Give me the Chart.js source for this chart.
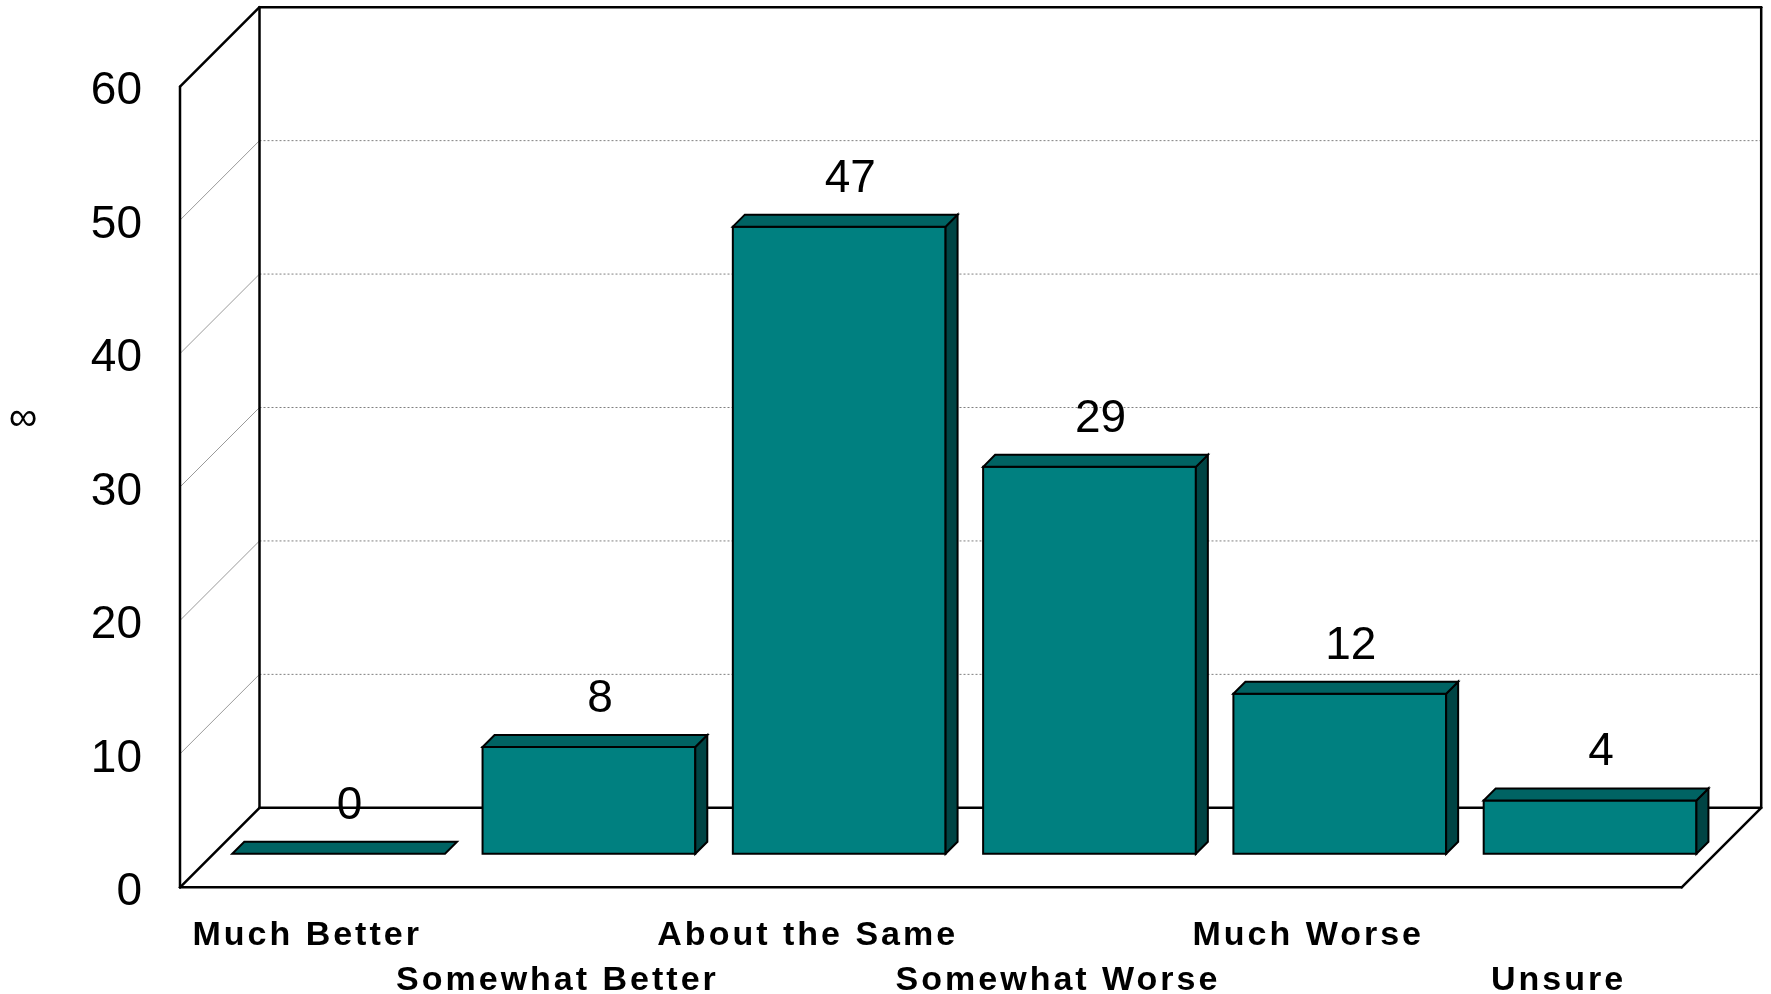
<!DOCTYPE html>
<html>
<head>
<meta charset="utf-8">
<script src="https://cdn.jsdelivr.net/npm/chart.js@4.4.0/dist/chart.umd.min.js"></script>
<style>
  html, body { margin: 0; padding: 0; background: #fff; }
  #wrap { width: 1771px; height: 994px; }
</style>
</head>
<body>
<div id="wrap"><canvas id="chart" width="1771" height="994"></canvas></div>
<script>
const categories = ['Much Better', 'Somewhat Better', 'About the Same', 'Somewhat Worse', 'Much Worse', 'Unsure'];
const values = [0, 8, 47, 29, 12, 4];
const yTicks = [0, 10, 20, 30, 40, 50, 60];
const yTitle = '\u221E';

const FONT = "'Liberation Sans', Arial, sans-serif";
const DEPTH = 79.5;    // depth of the 3d box walls
const BAR_OFF = 33.5;  // bars sit this far behind the front plane
const BAR_D = 12;      // bar thickness

function line(ctx, x1, y1, x2, y2) {
  ctx.beginPath();
  ctx.moveTo(x1, y1);
  ctx.lineTo(x2, y2);
  ctx.stroke();
}

function poly(ctx, pts, fill) {
  ctx.beginPath();
  ctx.moveTo(pts[0][0], pts[0][1]);
  for (let i = 1; i < pts.length; i++) ctx.lineTo(pts[i][0], pts[i][1]);
  ctx.closePath();
  ctx.fillStyle = fill;
  ctx.fill();
  ctx.stroke();
}

const frame3d = {
  id: 'frame3d',
  beforeDatasetsDraw(chart) {
    const ctx = chart.ctx;
    const a = chart.chartArea;
    const y = chart.scales.y;
    ctx.save();

    // grid lines: side wall diagonals + dotted lines on back wall
    ctx.lineWidth = 1;
    yTicks.slice(1, -1).forEach(v => {
      const py = y.getPixelForValue(v);
      ctx.setLineDash([]);
      ctx.strokeStyle = '#9a9a9a';
      line(ctx, a.left, py, a.left + DEPTH, py - DEPTH);
      ctx.setLineDash([2, 2]);
      ctx.strokeStyle = '#808080';
      line(ctx, a.left + DEPTH, py - DEPTH, a.right + DEPTH, py - DEPTH);
    });

    // box outline
    ctx.setLineDash([]);
    ctx.strokeStyle = '#000';
    ctx.lineWidth = 2.5;
    ctx.lineCap = 'round';
    const bl = a.left + DEPTH, bt = a.top - DEPTH, br = a.right + DEPTH, bb = a.bottom - DEPTH;
    line(ctx, bl, bt, br, bt);
    line(ctx, bl, bt, bl, bb);
    line(ctx, br, bt, br, bb);
    line(ctx, bl, bb, br, bb);
    line(ctx, a.left, a.top, a.left, a.bottom);
    line(ctx, a.left, a.top, bl, bt);
    line(ctx, a.left, a.bottom, bl, bb);
    line(ctx, a.left, a.bottom, a.right, a.bottom);
    line(ctx, a.right, a.bottom, br, bb);
    ctx.restore();
  },
  afterDatasetsDraw(chart) {
    const ctx = chart.ctx;
    const meta = chart.getDatasetMeta(0);
    ctx.save();
    ctx.strokeStyle = '#000';
    ctx.lineWidth = 2;
    ctx.lineJoin = 'miter';
    meta.data.forEach((bar, i) => {
      const p = bar.getProps(['x', 'y', 'base', 'width'], true);
      const L = p.x - p.width / 2 + BAR_OFF;
      const R = p.x + p.width / 2 + BAR_OFF;
      const T = p.y - BAR_OFF;
      const B = p.base - BAR_OFF;
      const d = BAR_D;
      if (B - T > 0.5) {
        poly(ctx, [[L, T], [R, T], [R, B], [L, B]], '#008080');
        poly(ctx, [[R, T], [R + d, T - d], [R + d, B - d], [R, B]], '#004444');
      }
      poly(ctx, [[L, T], [L + d, T - d], [R + d, T - d], [R, T]], '#006363');

      // value label
      ctx.fillStyle = '#000';
      ctx.font = '46px ' + FONT;
      ctx.textAlign = 'center';
      ctx.textBaseline = 'alphabetic';
      ctx.fillText(String(values[i]), p.x + BAR_OFF + 11, T - 35);
    });
    ctx.restore();
  },
  afterDraw(chart) {
    const ctx = chart.ctx;
    const a = chart.chartArea;
    const x = chart.scales.x;
    ctx.save();
    ctx.fillStyle = '#000';
    ctx.font = 'bold 34px ' + FONT;
    ctx.letterSpacing = '3px';
    ctx.textAlign = 'center';
    ctx.textBaseline = 'alphabetic';
    categories.forEach((c, i) => {
      const px = x.getPixelForValue(i) + 2;
      ctx.fillText(c, px, a.bottom + 58 + (i % 2) * 45);
    });
    ctx.letterSpacing = '0px';
    ctx.font = '40px ' + FONT;
    ctx.textBaseline = 'middle';
    ctx.fillText(yTitle, 23, 419);
    ctx.restore();
  }
};

new Chart(document.getElementById('chart'), {
  type: 'bar',
  data: {
    labels: categories,
    datasets: [{
      data: values,
      backgroundColor: 'rgba(0,0,0,0)',
      borderWidth: 0,
      barPercentage: 0.85,
      categoryPercentage: 1
    }]
  },
  options: {
    responsive: false,
    animation: false,
    devicePixelRatio: 1,
    layout: { padding: { top: 86.7, right: 89.3, bottom: 0, left: 0 } },
    plugins: {
      legend: { display: false },
      tooltip: { enabled: false },
      title: { display: false }
    },
    scales: {
      x: {
        grid: { display: false, drawTicks: false },
        border: { display: false },
        ticks: { display: false },
        afterFit: s => { s.height = 106.7; }
      },
      y: {
        min: 0,
        max: 60,
        grid: { display: false, drawTicks: false },
        border: { display: false },
        afterFit: s => { s.width = 180; },
        afterBuildTicks: s => { s.ticks = yTicks.map(v => ({ value: v })); },
        ticks: {
          padding: 38,
          labelOffset: 5,
          color: '#000',
          font: { family: FONT, size: 46 }
        }
      }
    }
  },
  plugins: [frame3d]
});
</script>
</body>
</html>
